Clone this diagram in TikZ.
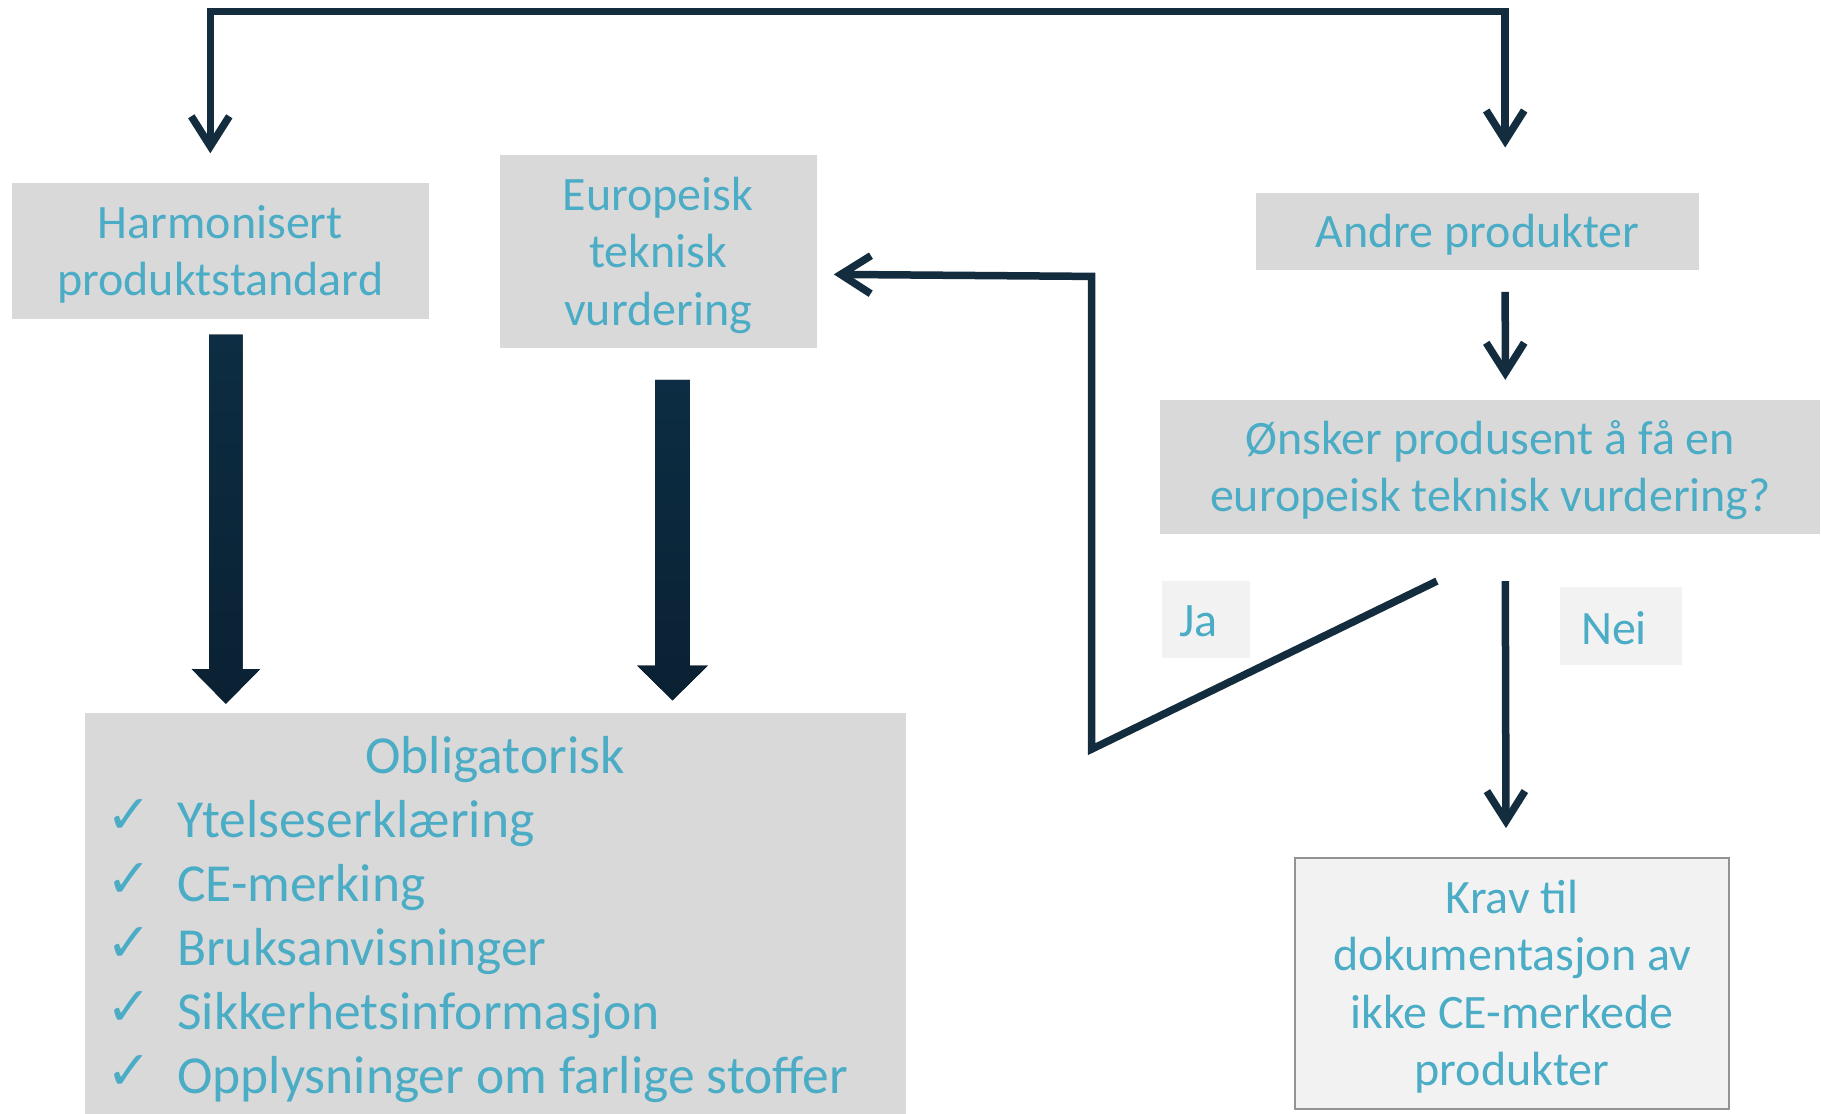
\documentclass[tikz,border=0pt]{standalone}
\usepackage{fontspec}
\setmainfont{Carlito}
\newfontfamily\symfont{DejaVu Sans}
\usetikzlibrary{arrows.meta,calc}
\definecolor{txtc}{HTML}{4BACC6}
\definecolor{boxg}{HTML}{D9D9D9}
\definecolor{lightg}{HTML}{F2F2F2}
\definecolor{navy}{HTML}{132D3F}
\definecolor{blkA}{HTML}{0C2D43}
\definecolor{blkB}{HTML}{0A2132}
\begin{document}
\begin{tikzpicture}[x=1pt,y=-1pt,
  box/.style={fill=boxg, inner sep=0pt, anchor=north west},
  lbox/.style={box, fill=lightg},
  txt/.style={inner sep=0pt, align=center, text=txtc, font=\fontsize{48}{57.5}\selectfont},
  item/.style={inner sep=0pt, text=txtc, font=\fontsize{53.5}{64}\selectfont},
  chk/.style={inner sep=0pt, text=txtc, font=\symfont\fontsize{54}{54}\selectfont},
  conn/.style={draw=navy, line width=7.5pt, line join=miter},
  arr/.style={conn, -{Straight Barb[length=30pt,width=38pt]}},
  arrboth/.style={conn, {Straight Barb[length=30pt,width=38pt]}-{Straight Barb[length=30pt,width=38pt]}},
  blockarrow/.style={top color=blkA, bottom color=blkB, draw=none}]
\useasboundingbox (0,0) rectangle (1821,1114);

% boxes
\node[box, minimum width=417pt, minimum height=136pt] (harm) at (11.6,182.3) {};
\node[txt] (harmt) at ($(harm.center)+(0,4)$) {Harmonisert\\produktstandard};
\node[box, minimum width=317pt, minimum height=193pt] (etv) at (499.4,154.5) {};
\node[txt] (etvt) at ($(etv.center)+(0,4)$) {Europeisk\\teknisk\\vurdering};
\node[box, minimum width=443.6pt, minimum height=76.6pt] (andre) at (1255.5,192.8) {};
\node[txt] (andret) at ($(andre.center)+(0,3)$) {Andre produkter};
\node[box, minimum width=660pt, minimum height=134.7pt] (onsker) at (1160.2,399.5) {};
\node[txt] (onskert) at ($(onsker.center)+(0,3)$) {Ønsker produsent å få en\\europeisk teknisk vurdering?};
\node[lbox, minimum width=88pt, minimum height=77pt] (ja) at (1161.4,580.7) {};
\node[txt] (jat) at ($(ja.center)+(-7,2)$) {Ja};
\node[lbox, minimum width=122pt, minimum height=78pt] (nei) at (1559.8,586.5) {};
\node[txt] (neit) at ($(nei.center)+(-7,2)$) {Nei};
\node[lbox, draw=gray!85, line width=2pt, minimum width=434.4pt, minimum height=251pt] (krav) at (1293.8,857.1) {};
\node[txt, font=\fontsize{48}{57.3}\selectfont] (kravt) at ($(krav.center)+(0,3)$) {Krav til\\dokumentasjon av\\ikke CE-merkede\\produkter};
\node[box, minimum width=821pt, minimum height=401pt] (oblig) at (84.8,713.1) {};

% list
\node[item, anchor=base] (obltitle) at (495,773) {Obligatorisk};
\foreach \t [count=\i from 0] in {Ytelseserklæring, CE-merking, Bruksanvisninger, Sikkerhetsinformasjon, Opplysninger om farlige stoffer} {
  \node[item, anchor=base west] (it\i) at (177,837+64*\i) {\t};
  \node[chk, anchor=south west] (ck\i) at (106,834+64*\i) {✓};
}

% block arrows
\fill[blockarrow] (209,334.5) -- (242.7,334.5) -- (242.7,669) -- (260.2,669) -- (225.9,703.8) -- (191.6,669) -- (209,669) -- cycle;
\fill[blockarrow] (655,379.8) -- (689.9,379.8) -- (689.9,665.5) -- (707.9,665.5) -- (672.5,700.3) -- (637.1,665.5) -- (655,665.5) -- cycle;

% connectors
\draw[arrboth] ($(harm.north)+(-10,-29)$) |- (860,11.6) -| ($(andre.north)+(27.7,-45.3)$);
\draw[arr] ($(andre.south)+(27.7,22)$) -- ($(onsker.north)+(14.9,-19.7)$);
\draw[arr] ($(onsker.south)+(-53.5,46.5)$) -- (1091.7,749.1) -- (1091.7,276.4) -- ($(etv.east)+(17,23.2)$);
\draw[arr] ($(onsker.south)+(14.9,46.5)$) -- ($(krav.north)+(-6,-29)$);
\end{tikzpicture}
\end{document}
